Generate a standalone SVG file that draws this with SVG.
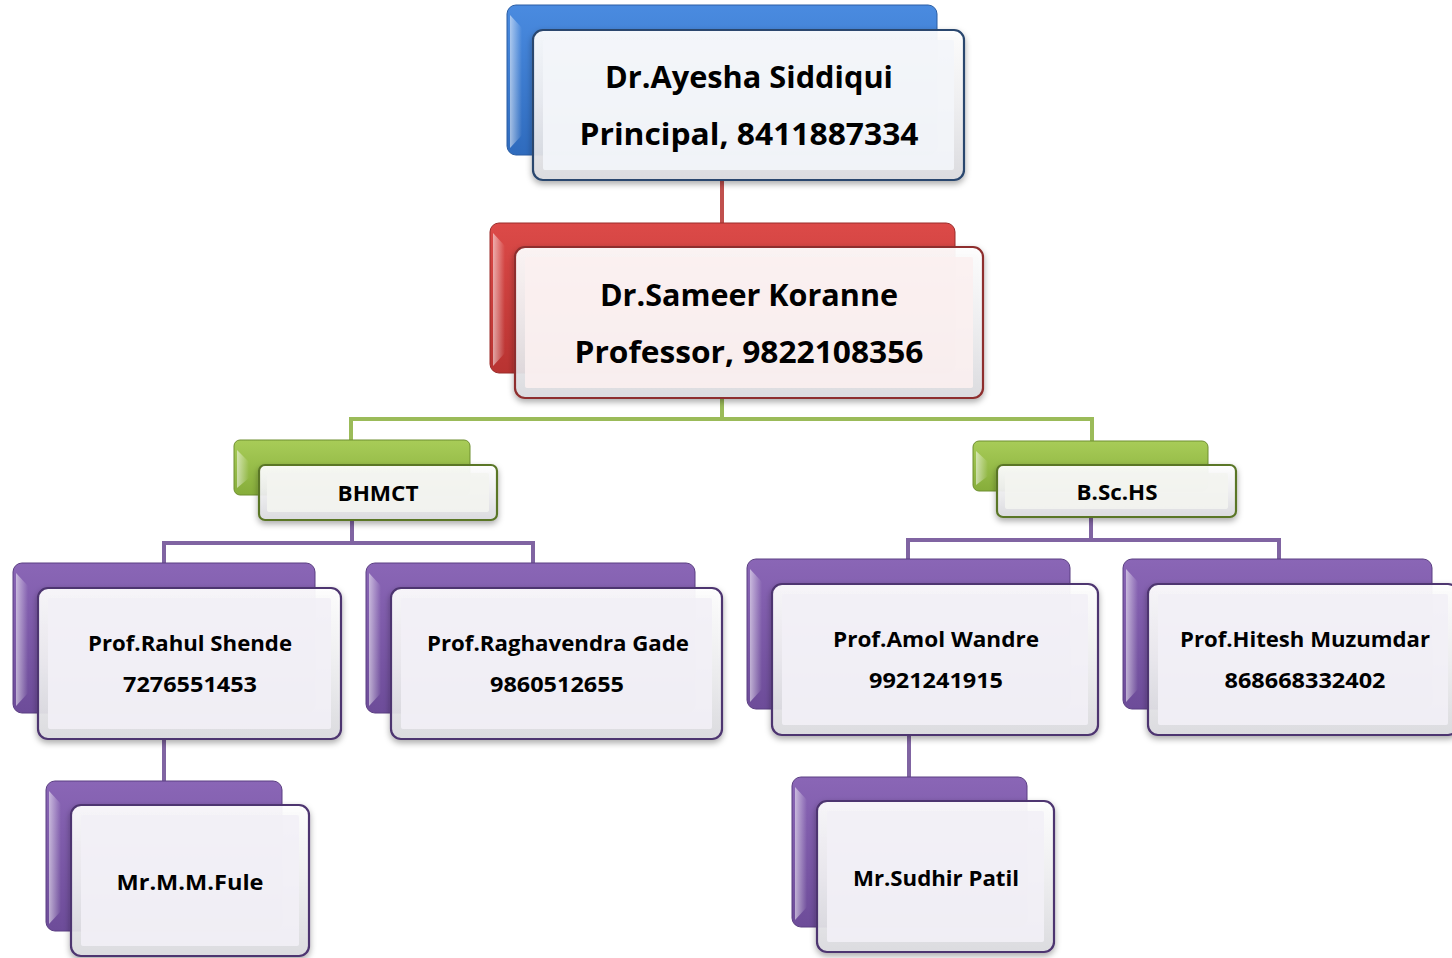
<svg xmlns="http://www.w3.org/2000/svg" width="1452" height="958" viewBox="0 0 1452 958">
<defs>
<linearGradient id="gBlue" x1="0" y1="0" x2="0" y2="1"><stop offset="0" stop-color="#4a8be0"/><stop offset="1" stop-color="#2f6bbd"/></linearGradient>
<linearGradient id="gRed" x1="0" y1="0" x2="0" y2="1"><stop offset="0" stop-color="#dc4a48"/><stop offset="1" stop-color="#b83331"/></linearGradient>
<linearGradient id="gGreen" x1="0" y1="0" x2="0" y2="1"><stop offset="0" stop-color="#a8cc58"/><stop offset="1" stop-color="#86ad3a"/></linearGradient>
<linearGradient id="gPurple" x1="0" y1="0" x2="0" y2="1"><stop offset="0" stop-color="#8a66b6"/><stop offset="1" stop-color="#6d4c99"/></linearGradient>
<linearGradient id="gEdge" x1="0" y1="0" x2="0" y2="1"><stop offset="0" stop-color="#ffffff"/><stop offset="0.5" stop-color="#f0f0f2"/><stop offset="1" stop-color="#dcdce0"/></linearGradient>
<linearGradient id="gSide" x1="0" y1="0" x2="1" y2="0"><stop offset="0" stop-color="#ffffff" stop-opacity="0.55"/><stop offset="1" stop-color="#ffffff" stop-opacity="0"/></linearGradient>
<filter id="sh" x="-10%" y="-10%" width="120%" height="130%"><feDropShadow dx="0" dy="3" stdDeviation="3" flood-color="#000" flood-opacity="0.35"/></filter>
</defs>
<style>
.back{stroke-width:1}
.blue .back{fill:url(#gBlue);stroke:#2a5da3}
.red .back{fill:url(#gRed);stroke:#9a2c2b}
.green .back{fill:url(#gGreen);stroke:#6f8f30}
.purple .back{fill:url(#gPurple);stroke:#5b3f82}
.front{fill:url(#gEdge);fill-opacity:0.93;stroke-width:2.2;filter:url(#sh)}
.blue .front{stroke:#29466e}
.red .front{stroke:#8e2f2e}
.green .front{stroke:#5a7628}
.purple .front{stroke:#4d3470}
.inner{stroke:none;fill-opacity:0.9}
.blue .inner{fill:#f3f5fa}
.red .inner{fill:#fbefef}
.green .inner{fill:#f3f4f0}
.purple .inner{fill:#f2f0f6}
.hl{fill:url(#gSide)}
text{font-family:"Open Sans","Noto Sans","Liberation Sans",sans-serif;font-weight:700;fill:#000;text-anchor:middle}
.big{font-size:31px}
.sm{font-size:22px}
.conn{fill:none;stroke-width:4}
</style>

<g id="connectors">
<path class="conn" stroke="#c0504d" d="M722 180 V223"/>
<path class="conn" stroke="#9bbb59" d="M722 398 V419 H1092 V441 M722 419 H351 V440"/>
<path class="conn" stroke="#8064a2" d="M352 520 V543 H164 V563 M352 543 H533 V563 M164 739 V781 M1091 517 V540 H908 V559 M1091 540 H1279 V559 M909 735 V777"/>
</g>

<g id="n-ayesha" class="blue">
<rect class="back" x="507" y="5" width="430" height="150" rx="9"/>
<polygon class="hl" points="510,15 522,28 522,135 510,148"/>
<rect class="front" x="533" y="30" width="431" height="150" rx="10"/>
<rect class="inner" x="543" y="40" width="411" height="130" rx="2"/>
<text class="big" x="749" y="88" textLength="288" lengthAdjust="spacingAndGlyphs">Dr.Ayesha Siddiqui</text>
<text class="big" x="749" y="145" textLength="339" lengthAdjust="spacingAndGlyphs">Principal, 8411887334</text>
</g>

<g id="n-sameer" class="red">
<rect class="back" x="490" y="223" width="465" height="150" rx="9"/>
<polygon class="hl" points="493,233 505,246 505,353 493,366"/>
<rect class="front" x="515" y="247" width="468" height="151" rx="10"/>
<rect class="inner" x="525" y="257" width="448" height="131" rx="2"/>
<text class="big" x="749" y="306" textLength="298" lengthAdjust="spacingAndGlyphs">Dr.Sameer Koranne</text>
<text class="big" x="749" y="363" textLength="349" lengthAdjust="spacingAndGlyphs">Professor, 9822108356</text>
</g>

<g id="n-bhmct" class="green">
<rect class="back" x="234" y="440" width="236" height="55" rx="6"/>
<polygon class="hl" points="237,450 249,462 249,478 237,488"/>
<rect class="front" x="259" y="465" width="238" height="55" rx="6"/>
<rect class="inner" x="267" y="473" width="222" height="39" rx="2"/>
<text class="sm" x="378" y="501" textLength="81" lengthAdjust="spacingAndGlyphs">BHMCT</text>
</g>

<g id="n-bschs" class="green">
<rect class="back" x="973" y="441" width="235" height="50" rx="6"/>
<polygon class="hl" points="976,451 988,462 988,476 976,485"/>
<rect class="front" x="997" y="465" width="239" height="52" rx="6"/>
<rect class="inner" x="1005" y="473" width="223" height="36" rx="2"/>
<text class="sm" x="1117" y="500" textLength="81" lengthAdjust="spacingAndGlyphs">B.Sc.HS</text>
</g>

<g id="n-rahul" class="purple">
<rect class="back" x="13" y="563" width="302" height="150" rx="9"/>
<polygon class="hl" points="16,573 28,586 28,693 16,706"/>
<rect class="front" x="38" y="588" width="303" height="151" rx="10"/>
<rect class="inner" x="48" y="598" width="283" height="131" rx="2"/>
<text class="sm" x="190" y="651" textLength="204" lengthAdjust="spacingAndGlyphs">Prof.Rahul Shende</text>
<text class="sm" x="190" y="692" textLength="134" lengthAdjust="spacingAndGlyphs">7276551453</text>
</g>

<g id="n-raghavendra" class="purple">
<rect class="back" x="366" y="563" width="329" height="150" rx="9"/>
<polygon class="hl" points="369,573 381,586 381,693 369,706"/>
<rect class="front" x="391" y="588" width="331" height="151" rx="10"/>
<rect class="inner" x="401" y="598" width="311" height="131" rx="2"/>
<text class="sm" x="558" y="651" textLength="262" lengthAdjust="spacingAndGlyphs">Prof.Raghavendra Gade</text>
<text class="sm" x="557" y="692" textLength="134" lengthAdjust="spacingAndGlyphs">9860512655</text>
</g>

<g id="n-amol" class="purple">
<rect class="back" x="747" y="559" width="323" height="150" rx="9"/>
<polygon class="hl" points="750,569 762,582 762,689 750,702"/>
<rect class="front" x="772" y="584" width="326" height="151" rx="10"/>
<rect class="inner" x="782" y="594" width="306" height="131" rx="2"/>
<text class="sm" x="936" y="647" textLength="206" lengthAdjust="spacingAndGlyphs">Prof.Amol Wandre</text>
<text class="sm" x="936" y="688" textLength="134" lengthAdjust="spacingAndGlyphs">9921241915</text>
</g>

<g id="n-hitesh" class="purple">
<rect class="back" x="1123" y="559" width="309" height="150" rx="9"/>
<polygon class="hl" points="1126,569 1138,582 1138,689 1126,702"/>
<rect class="front" x="1148" y="584" width="310" height="151" rx="10"/>
<rect class="inner" x="1158" y="594" width="290" height="131" rx="2"/>
<text class="sm" x="1305" y="647" textLength="250" lengthAdjust="spacingAndGlyphs">Prof.Hitesh Muzumdar</text>
<text class="sm" x="1305" y="688" textLength="161" lengthAdjust="spacingAndGlyphs">868668332402</text>
</g>

<g id="n-fule" class="purple">
<rect class="back" x="46" y="781" width="236" height="150" rx="9"/>
<polygon class="hl" points="49,791 61,804 61,911 49,924"/>
<rect class="front" x="71" y="805" width="238" height="151" rx="10"/>
<rect class="inner" x="81" y="815" width="218" height="131" rx="2"/>
<text class="sm" x="190" y="890" textLength="147" lengthAdjust="spacingAndGlyphs">Mr.M.M.Fule</text>
</g>

<g id="n-sudhir" class="purple">
<rect class="back" x="792" y="777" width="235" height="150" rx="9"/>
<polygon class="hl" points="795,787 807,800 807,907 795,920"/>
<rect class="front" x="817" y="801" width="237" height="151" rx="10"/>
<rect class="inner" x="827" y="811" width="217" height="131" rx="2"/>
<text class="sm" x="936" y="886" textLength="166" lengthAdjust="spacingAndGlyphs">Mr.Sudhir Patil</text>
</g>
</svg>
